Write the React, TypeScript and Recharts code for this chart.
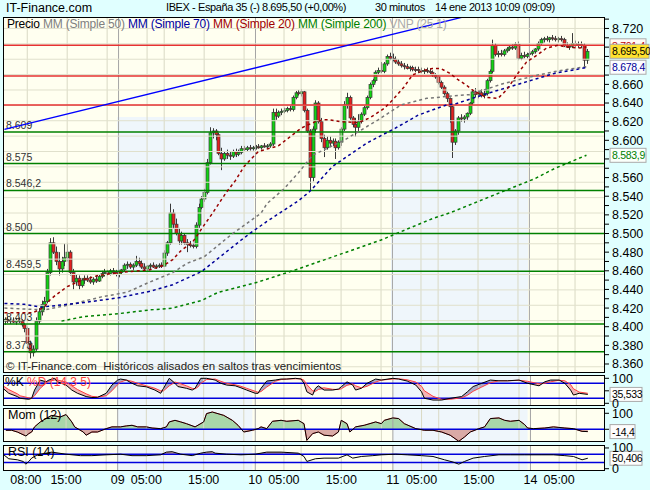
import React from 'react';
import {
  ComposedChart,
  Bar,
  Line,
  Area,
  XAxis,
  YAxis,
  CartesianGrid,
  ReferenceLine,
  ReferenceArea,
} from 'recharts';

const FONT = '"Liberation Sans", Arial, Helvetica, sans-serif';

// 30 minute bars, 08 ene 04:00 -> 14 ene 10:00 (205 bars)
const opens = [
  8406, 8408, 8406, 8407, 8405, 8407, 8406, 8402, 8398, 8382,
  8372, 8376, 8406, 8416, 8424, 8427, 8458, 8490, 8480, 8470,
  8462, 8470, 8474, 8480, 8458, 8448, 8452, 8444, 8450, 8452,
  8450, 8448, 8451, 8449, 8454, 8457, 8458, 8457, 8460, 8458,
  8456, 8458, 8461, 8466, 8467, 8464, 8466, 8470, 8468, 8464,
  8462, 8465, 8466, 8464, 8465, 8466, 8465, 8479, 8490, 8522,
  8510, 8500, 8492, 8498, 8490, 8488, 8487, 8486, 8509, 8528,
  8537, 8544, 8576, 8608, 8610, 8606, 8586, 8580, 8586, 8584,
  8583, 8588, 8585, 8587, 8591, 8590, 8592, 8591, 8592, 8593,
  8592, 8594, 8593, 8594, 8596, 8630, 8626, 8630, 8631, 8632,
  8634, 8633, 8646, 8651, 8650, 8652, 8632, 8610, 8560, 8612,
  8640, 8620, 8602, 8592, 8600, 8597, 8599, 8592, 8598, 8612,
  8638, 8646, 8624, 8617, 8614, 8620, 8628, 8635, 8646, 8660,
  8664, 8673, 8675, 8674, 8682, 8690, 8688, 8687, 8684, 8682,
  8680, 8679, 8677, 8678, 8676, 8676, 8675, 8674, 8675, 8674,
  8673, 8670, 8668, 8662, 8657, 8650, 8645, 8636, 8598, 8610,
  8624, 8623, 8625, 8629, 8640, 8652, 8649, 8651, 8648, 8650,
  8664, 8674, 8702, 8692, 8693, 8692, 8696, 8698, 8700, 8699,
  8703, 8688, 8691, 8690, 8692, 8693, 8695, 8698, 8704, 8708,
  8709, 8708, 8710, 8709, 8708, 8709, 8708, 8702, 8700, 8701,
  8704, 8702, 8703, 8702, 8686,
];
const highs = [
  8410, 8411, 8409, 8410, 8409, 8410, 8408, 8404, 8400, 8385,
  8380, 8410, 8420, 8428, 8432, 8462, 8495, 8496, 8486, 8480,
  8475, 8489, 8490, 8482, 8462, 8456, 8455, 8452, 8455, 8455,
  8454, 8453, 8455, 8456, 8460, 8462, 8461, 8462, 8463, 8461,
  8460, 8462, 8468, 8470, 8469, 8468, 8476, 8474, 8471, 8468,
  8466, 8468, 8469, 8467, 8468, 8469, 8482, 8492, 8532, 8526,
  8516, 8506, 8502, 8500, 8494, 8492, 8490, 8512, 8532, 8540,
  8548, 8580, 8614, 8613, 8612, 8608, 8592, 8588, 8590, 8588,
  8590, 8591, 8590, 8594, 8594, 8594, 8595, 8594, 8595, 8596,
  8595, 8597, 8596, 8598, 8634, 8634, 8632, 8634, 8635, 8636,
  8637, 8648, 8653, 8654, 8655, 8653, 8634, 8612, 8615, 8643,
  8642, 8624, 8606, 8604, 8604, 8602, 8602, 8600, 8614, 8642,
  8651, 8648, 8626, 8624, 8628, 8630, 8637, 8648, 8662, 8666,
  8675, 8678, 8684, 8684, 8692, 8694, 8693, 8690, 8687, 8685,
  8683, 8682, 8680, 8680, 8679, 8679, 8678, 8677, 8678, 8677,
  8675, 8672, 8670, 8664, 8659, 8652, 8646, 8638, 8612, 8626,
  8628, 8627, 8630, 8641, 8655, 8656, 8654, 8655, 8653, 8666,
  8676, 8708, 8704, 8696, 8697, 8698, 8700, 8702, 8703, 8705,
  8706, 8694, 8695, 8694, 8695, 8697, 8699, 8706, 8710, 8711,
  8712, 8711, 8713, 8712, 8711, 8712, 8710, 8705, 8703, 8715,
  8707, 8706, 8706, 8704, 8698,
];
const lows = [
  8402, 8404, 8403, 8404, 8402, 8404, 8400, 8394, 8378, 8366,
  8368, 8374, 8403, 8412, 8418, 8425, 8455, 8478, 8466, 8455,
  8458, 8465, 8470, 8455, 8440, 8444, 8440, 8442, 8446, 8448,
  8446, 8445, 8447, 8448, 8452, 8454, 8455, 8455, 8456, 8454,
  8453, 8456, 8459, 8462, 8462, 8461, 8464, 8465, 8462, 8460,
  8460, 8462, 8463, 8462, 8463, 8463, 8464, 8476, 8488, 8505,
  8498, 8488, 8488, 8488, 8480, 8485, 8484, 8484, 8506, 8526,
  8534, 8542, 8574, 8602, 8600, 8584, 8568, 8578, 8580, 8579,
  8581, 8582, 8583, 8585, 8588, 8588, 8589, 8589, 8590, 8591,
  8590, 8592, 8591, 8592, 8594, 8622, 8624, 8627, 8629, 8630,
  8631, 8631, 8644, 8648, 8647, 8630, 8608, 8546, 8556, 8608,
  8618, 8598, 8582, 8590, 8594, 8594, 8580, 8590, 8594, 8610,
  8634, 8622, 8614, 8604, 8610, 8618, 8626, 8633, 8644, 8657,
  8662, 8670, 8672, 8672, 8680, 8686, 8685, 8682, 8680, 8678,
  8676, 8676, 8674, 8674, 8673, 8672, 8672, 8671, 8672, 8671,
  8668, 8666, 8660, 8655, 8648, 8641, 8619, 8581, 8595, 8606,
  8620, 8619, 8622, 8627, 8638, 8646, 8645, 8646, 8645, 8648,
  8662, 8672, 8690, 8689, 8690, 8690, 8694, 8696, 8697, 8697,
  8686, 8686, 8688, 8688, 8689, 8691, 8693, 8696, 8702, 8705,
  8706, 8705, 8707, 8706, 8705, 8706, 8700, 8699, 8697, 8699,
  8700, 8699, 8699, 8678, 8682,
];
const closes = [
  8408, 8406, 8407, 8405, 8407, 8406, 8402, 8398, 8382, 8372,
  8376, 8406, 8416, 8424, 8427, 8458, 8490, 8480, 8470, 8462,
  8470, 8474, 8480, 8458, 8448, 8452, 8444, 8450, 8452, 8450,
  8448, 8451, 8449, 8454, 8457, 8458, 8457, 8460, 8458, 8456,
  8458, 8461, 8466, 8467, 8464, 8466, 8470, 8468, 8464, 8462,
  8465, 8466, 8464, 8465, 8466, 8465, 8479, 8490, 8522, 8510,
  8500, 8492, 8498, 8490, 8488, 8487, 8486, 8509, 8528, 8537,
  8544, 8576, 8608, 8610, 8606, 8586, 8580, 8586, 8584, 8583,
  8588, 8585, 8587, 8591, 8590, 8592, 8591, 8592, 8593, 8592,
  8594, 8593, 8594, 8596, 8630, 8626, 8630, 8631, 8632, 8634,
  8633, 8646, 8651, 8650, 8652, 8632, 8610, 8560, 8612, 8640,
  8620, 8602, 8592, 8600, 8597, 8599, 8592, 8598, 8612, 8638,
  8646, 8624, 8617, 8614, 8620, 8628, 8635, 8646, 8660, 8664,
  8673, 8675, 8674, 8682, 8690, 8688, 8687, 8684, 8682, 8680,
  8679, 8677, 8678, 8676, 8675, 8675, 8674, 8675, 8674, 8673,
  8670, 8668, 8662, 8657, 8650, 8645, 8636, 8598, 8610, 8624,
  8623, 8625, 8629, 8640, 8652, 8649, 8651, 8648, 8650, 8664,
  8674, 8702, 8692, 8693, 8692, 8696, 8698, 8700, 8699, 8703,
  8688, 8691, 8690, 8692, 8693, 8695, 8698, 8704, 8708, 8709,
  8708, 8710, 8709, 8708, 8709, 8708, 8702, 8700, 8701, 8704,
  8702, 8703, 8702, 8686, 8695.5,
];
const SLOTS = 211; // bars plus empty room on the right edge

// moving averages: [bar, value]
const ma20Pts = [
  [0, 8415], [10, 8415], [14, 8421], [16, 8429], [18, 8434], [22, 8443], [27, 8450],
  [33, 8455], [40, 8458], [51, 8461], [56, 8466], [59, 8472], [62, 8482], [66, 8491],
  [70, 8509], [73, 8522], [76, 8536], [78, 8545], [81, 8557], [84, 8572], [89, 8588],
  [96, 8594], [104, 8613], [106, 8616], [109, 8620], [112, 8622], [114, 8622], [118, 8620],
  [124, 8619], [128, 8624], [133, 8634], [136, 8643], [140, 8657], [143, 8670], [147, 8675],
  [150, 8677], [153, 8677], [156, 8672], [159, 8665], [162, 8659], [164, 8654], [167, 8649],
  [169, 8646], [173, 8645], [176, 8654], [180, 8672], [183, 8684], [187, 8692], [190, 8699],
  [194, 8702], [197, 8700], [201, 8699], [204, 8700],
];
const ma50Pts = [
  [0, 8420], [14, 8418], [22, 8423], [34, 8432], [43, 8437], [51, 8448], [59, 8458],
  [64, 8468], [70, 8475], [78, 8495], [80, 8500], [90, 8522], [92, 8532], [98, 8548],
  [103, 8565], [108, 8584], [119, 8600], [131, 8622], [139, 8638], [148, 8645], [155, 8647],
  [163, 8649], [175, 8661], [187, 8670], [195, 8675], [204, 8679],
];
const ma70Pts = [
  [0, 8425], [7, 8424], [13, 8421], [28, 8426], [40, 8431], [51, 8438], [59, 8445],
  [69, 8459], [83, 8493], [86, 8500], [92, 8513], [103, 8535], [107, 8545], [115, 8572],
  [127, 8597], [137, 8613], [145, 8627], [155, 8638], [158, 8639], [169, 8650], [181, 8661],
  [193, 8672], [204, 8678],
];
const ma200Pts = [
  [20, 8406], [28, 8411], [40, 8414], [51, 8418], [59, 8420], [69, 8428], [75, 8437],
  [89, 8448], [103, 8462], [132, 8493], [139, 8502], [150, 8516], [156, 8522], [186, 8559],
  [193, 8570], [204, 8584],
];

// stochastic %K / %D: [bar, K, D]
const stochPts = [
  [0, 60, 70], [2, 40, 55], [5, 27, 38], [6, 20, 30], [9, 16, 22], [10, 20, 20], [11, 53, 30],
  [13, 93, 60], [15, 86, 80], [16, 93, 88], [18, 100, 93], [19, 86, 93], [22, 73, 85],
  [24, 53, 70], [26, 40, 55], [29, 27, 38], [31, 23, 28], [33, 24, 25], [36, 40, 30],
  [38, 73, 50], [40, 93, 75], [41, 97, 85], [43, 93, 93], [45, 80, 88], [47, 70, 80],
  [50, 66, 70], [53, 53, 60], [55, 40, 50], [56, 60, 50], [58, 100, 70], [60, 80, 85],
  [61, 67, 82], [64, 60, 70], [66, 53, 60], [67, 60, 58], [68, 80, 65], [69, 100, 80],
  [71, 100, 95], [74, 93, 97], [76, 80, 88], [78, 73, 80], [81, 70, 74], [83, 62, 68],
  [85, 53, 60], [88, 40, 48], [89, 40, 44], [90, 60, 47], [92, 89, 65], [95, 93, 88],
  [97, 97, 95], [99, 97, 97], [102, 100, 98], [104, 97, 98], [105, 80, 92], [106, 46, 75],
  [108, 33, 50], [109, 60, 48], [110, 70, 55], [112, 53, 62], [115, 53, 56], [117, 57, 55],
  [118, 66, 58], [120, 86, 72], [122, 73, 78], [123, 53, 70], [125, 60, 62], [127, 80, 68],
  [130, 97, 85], [132, 93, 93], [136, 100, 97], [138, 97, 98], [141, 89, 94], [144, 73, 85],
  [146, 46, 68], [147, 20, 50], [150, 13, 28], [153, 13, 16], [156, 20, 16], [160, 27, 22],
  [162, 46, 32], [164, 67, 48], [167, 80, 65], [170, 93, 82], [173, 90, 90], [176, 90, 90],
  [180, 93, 92], [183, 80, 88], [187, 70, 78], [189, 86, 80], [191, 93, 86], [194, 93, 92],
  [196, 80, 90], [198, 53, 75], [199, 33, 58], [201, 40, 45], [204, 35.5, 40],
];
// momentum (12): [bar, value]
const momPts = [
  [1, -6], [3, -6], [5, -17], [8, -42], [9, -27], [10, -17], [11, 15], [13, 46], [15, 67],
  [17, 87], [20, 77], [22, 92], [24, 46], [25, 15], [28, -17], [29, -37], [31, -17], [33, -17],
  [36, 4], [38, 15], [41, 15], [43, 21], [45, 25], [47, 15], [50, 15], [52, 8], [55, 4],
  [57, 15], [58, 46], [60, 56], [62, 46], [64, 35], [67, 15], [70, 46], [71, 98], [73, 108],
  [77, 87], [80, 56], [82, 25], [84, -17], [87, -6], [89, 4], [90, 15], [92, 4], [94, 50],
  [97, 56], [99, 50], [103, 56], [105, 35], [106, -69], [108, -27], [110, -17], [112, -37],
  [115, -42], [117, -17], [118, 56], [120, 35], [121, -17], [123, 15], [126, 25], [130, 46],
  [132, 35], [133, 56], [136, 71], [138, 67], [140, 35], [144, 4], [147, -6], [150, -6],
  [153, -17], [156, -37], [159, -75], [161, -48], [163, -17], [166, 4], [168, 15], [170, 67],
  [173, 71], [175, 56], [177, 50], [180, 56], [182, 29], [183, 8], [185, 4], [189, 8],
  [192, 15], [196, 8], [199, 4], [202, -13], [204, -14.4],
];
// RSI (14): [bar, value]
const rsiPts = [
  [0, 70], [2, 48], [5, 43], [7, 35], [8, 22], [9, 35], [10, 51], [12, 67], [15, 75], [17, 80],
  [22, 70], [27, 63], [31, 63], [36, 67], [41, 70], [45, 63], [50, 63], [55, 67], [57, 80],
  [59, 82], [62, 70], [66, 63], [69, 75], [71, 80], [73, 82], [74, 75], [78, 70], [83, 67],
  [88, 70], [92, 80], [97, 80], [103, 75], [105, 59], [106, 35], [109, 48], [112, 51],
  [117, 51], [120, 67], [122, 51], [125, 59], [129, 63], [132, 67], [137, 70], [141, 67],
  [146, 63], [150, 59], [154, 43], [157, 32], [159, 22], [161, 35], [164, 51], [168, 59],
  [173, 67], [177, 67], [182, 67], [188, 67], [192, 67], [196, 63], [199, 59], [202, 43],
  [204, 50.4],
];

const redLevels = [8702, 8669, 8638];
const greenLevels = [8609, 8575, 8546.2, 8500, 8459.5, 8403, 8373];
const greenLabels = ['8.609', '8.575', '8.546,2', '8.500', '8.459,5', '8.403', '8.373'];
const trendFrom = { x: 0, y: 8611.7 };
const trendTo = { x: 204, y: 8764.7 };

const priceTicks = [
  8360, 8370, 8380, 8390, 8400, 8410, 8420, 8430, 8440, 8450, 8460, 8470, 8480, 8490,
  8500, 8510, 8520, 8530, 8540, 8550, 8560, 8570, 8580, 8590, 8600, 8610, 8620, 8630,
  8640, 8650, 8660, 8670, 8680, 8690, 8700, 8710, 8720, 8730,
];
// labels hidden in the reference behind the value tags
const coveredTicks = [8580, 8680, 8700];
const priceGrid = [
  8720, 8703.5, 8687, 8670.5, 8654, 8637.5, 8621, 8604.5, 8588, 8571.5, 8555, 8538.5,
  8522, 8505.5, 8489, 8472.5, 8456, 8439.5, 8423, 8406.5, 8390, 8373.5, 8357,
];
const labelTicks = [8, 22, 40, 50, 70, 88, 98, 118, 136, 146, 166, 184, 194];
const labelTexts = ['08:00', '15:00', '09', '05:00', '15:00', '10', '05:00', '15:00', '11', '05:00', '15:00', '14', '05:00'];
const gridTicks = [8, 22, 36, 50, 56, 70, 84, 98, 104, 118, 132, 146, 152, 166, 180, 194, 200];
const daySplits = [40, 88, 136, 184];
const shadedDays = [[40, 87], [136, 183]];

const priceTags = [
  { v: 8701.4, text: '8.701,4', color: '#c00000', bg: '#fffaf5', w: 36 },
  { v: 8695.5, text: '8.695,50', color: '#000', bg: '#ffe22e', w: 39 },
  { v: 8678.4, text: '8.678,4', color: '#000099', bg: '#fbfdff', w: 36 },
  { v: 8583.9, text: '8.583,9', color: '#008000', bg: '#fbfffb', w: 36 },
];

const PRICE_MIN = 8351.4;
const PRICE_MAX = 8732.3;

// build the row table
const rows: any[] = Array.from({ length: SLOTS }, (_, i) => ({
  i,
  o: opens[i] ?? null,
  h: highs[i] ?? null,
  l: lows[i] ?? null,
  c: closes[i] ?? null,
}));
const put = (pts: number[][], key: string) => pts.forEach(([i, v]) => { rows[i][key] = v; });
put(ma20Pts, 'ma20');
put(ma50Pts, 'ma50');
put(ma70Pts, 'ma70');
put(ma200Pts, 'ma200');
stochPts.forEach(([i, k, d]) => { rows[i].k = k; rows[i].d = d; });
put(momPts, 'mom');
put(rsiPts, 'rsi');

const momMax = Math.max(...momPts.map((p) => p[1]));
const momMin = Math.min(...momPts.map((p) => p[1]));
const momSplit = momMax / (momMax - momMin);

const fmtPrice = (v: number) => {
  const s = String(v);
  return s.slice(0, -3) + '.' + s.slice(-3);
};

const Candle = (props: any) => {
  const { x, y, width, height, payload } = props;
  if (!payload || payload.o == null) return null;
  const { o, h, l, c } = payload;
  const top = Math.min(y, y + height);
  const bot = Math.max(y, y + height);
  const k = h === l ? 0 : (bot - top) / (h - l);
  const cx = Math.round(x + width / 2) + 0.5;
  const yo = top + (h - o) * k;
  const yc = top + (h - c) * k;
  const bTop = Math.min(yo, yc);
  const bH = Math.max(1, Math.abs(yo - yc));
  return (
    <g>
      <line x1={cx} x2={cx} y1={top} y2={bot} stroke="#3a3a3a" strokeWidth={1} />
      <rect x={cx - 1.5} y={bTop} width={3} height={bH} fill={c >= o ? '#12d412' : '#e42020'} stroke="#3a3a3a" strokeWidth={0.7} />
    </g>
  );
};

const levelLabel = (text: string) => (props: any) => {
  const vb = props.viewBox;
  if (!vb) return null;
  return (
    <text x={vb.x + 3} y={vb.y - 3} fontSize={10.5} fill="#333" fontFamily={FONT}>
      {text}
    </text>
  );
};

const tagLabel = (text: string, color: string, bg: string, w: number) => (props: any) => {
  const vb = props.viewBox;
  if (!vb) return null;
  const x = vb.x + vb.width + 5;
  return (
    <g>
      <rect x={x} y={vb.y - 7} width={w} height={14} fill={bg} stroke="#aaa" />
      <text x={x + 2} y={vb.y + 4} fontSize={10.5} letterSpacing={-0.3} fill={color} fontFamily={FONT}>
        {text}
      </text>
    </g>
  );
};

// shared background pieces for every panel
const panelBackdrop = (yMin: number, yMax: number, shadeTop: number) => [
  <CartesianGrid key="bg" fill="#fffff0" horizontal={false} vertical={false} stroke="none" />,
  ...shadedDays.map(([a, b]) => (
    <ReferenceArea key={'sh' + a} x1={a} x2={b} y1={yMin} y2={shadeTop} fill="#eff6fb" fillOpacity={1} stroke="none" ifOverflow="hidden" />
  )),
  ...gridTicks.map((t) => <ReferenceLine key={'gx' + t} x={t} stroke="#d9d9c4" strokeWidth={1} />),
  ...daySplits.map((t) => <ReferenceLine key={'dx' + t} x={t} stroke="#a4a4a4" strokeWidth={1} />),
];

const axisTick = { fill: '#000', fontSize: 12.5, fontFamily: FONT };

const Border = ({ top, height }: { top: number; height: number }) => (
  <div style={{ position: 'absolute', left: 3, top, width: 602, height, border: '1px solid #000', boxSizing: 'border-box', pointerEvents: 'none' }} />
);

const boxTag = (value: number, text: string, w: number) => (
  <ReferenceLine y={value} stroke="none" ifOverflow="visible" label={tagLabel(text, '#000', '#fdfdfd', w)} />
);

const headStyle = { position: 'absolute' as const, top: 1, fontSize: 11, letterSpacing: -0.4, whiteSpace: 'nowrap' as const };
const PAD = 7; // room above/below indicator panels so their tick labels are not clipped

export default function App() {
  return (
    <div style={{ position: 'relative', width: 650, height: 490, background: '#e0ffff', overflow: 'hidden', fontFamily: FONT }}>
      <style>{'body{margin:0}'}</style>

      {/* header */}
      <div style={{ position: 'absolute', left: 6, top: 1, fontSize: 12.5 }}>IT-Finance.com</div>
      <div style={{ ...headStyle, left: 166 }}>IBEX - España 35 (-)</div>
      <div style={{ ...headStyle, left: 262 }}>8.695,50 (+0,00%)</div>
      <div style={{ ...headStyle, left: 375 }}>30 minutos</div>
      <div style={{ ...headStyle, left: 435 }}>14 ene 2013 10:09 (09:09)</div>

      {/* price panel */}
      <div style={{ position: 'absolute', left: 0, top: 0 }}>
        <ComposedChart width={650} height={374} data={rows} margin={{ top: 17, right: 0, bottom: 2, left: 3 }} barCategoryGap={0} barGap={0}>
          {panelBackdrop(PRICE_MIN, PRICE_MAX, 8625)}
          {priceGrid.map((p) => (
            <ReferenceLine key={'gy' + p} y={p} stroke="#e0e0cc" strokeWidth={1} />
          ))}
          {redLevels.map((p) => (
            <ReferenceLine key={'r' + p} y={p} stroke="#e63232" strokeWidth={1.5} />
          ))}
          {greenLevels.map((p, n) => (
            <ReferenceLine key={'g' + p} y={p} stroke="#008000" strokeWidth={1.5} label={levelLabel(greenLabels[n])} />
          ))}
          <ReferenceLine segment={[trendFrom, trendTo]} stroke="#0000ff" strokeWidth={1.3} ifOverflow="hidden" />
          <Line dataKey="ma200" stroke="#008000" strokeWidth={1.5} strokeDasharray="3 3" dot={false} connectNulls isAnimationActive={false} />
          <Line dataKey="ma50" stroke="#777777" strokeWidth={1.5} strokeDasharray="3 3" dot={false} connectNulls isAnimationActive={false} />
          <Line dataKey="ma70" stroke="#000099" strokeWidth={1.5} strokeDasharray="3 3" dot={false} connectNulls isAnimationActive={false} />
          <Line dataKey="ma20" stroke="#990000" strokeWidth={1.5} strokeDasharray="3 3" dot={false} connectNulls isAnimationActive={false} />
          <Bar dataKey={(r: any) => (r.h == null ? null : [r.l, r.h])} shape={Candle} isAnimationActive={false} />
          {priceTags.map((t) => (
            <ReferenceLine key={'t' + t.v} y={t.v} stroke="none" ifOverflow="visible" label={tagLabel(t.text, t.color, t.bg, t.w)} />
          ))}
          <XAxis dataKey="i" type="category" hide />
          <YAxis
            orientation="right"
            width={45}
            domain={[PRICE_MIN, PRICE_MAX]}
            allowDataOverflow
            ticks={priceTicks}
            interval={0}
            tickFormatter={(v: number) => (v % 20 === 0 && !coveredTicks.includes(v) ? fmtPrice(v) : '')}
            tick={axisTick}
            tickSize={4}
            tickMargin={3}
            tickLine={{ stroke: '#000' }}
            axisLine={false}
          />
        </ComposedChart>
      </div>
      <Border top={17} height={356} />
      <div style={{ position: 'absolute', left: 7, top: 17, fontSize: 12, letterSpacing: -0.2, whiteSpace: 'nowrap' }}>
        <span style={{ color: '#000' }}>Precio </span>
        <span style={{ color: '#808080' }}>MM (Simple 50) </span>
        <span style={{ color: '#0000a0' }}>MM (Simple 70) </span>
        <span style={{ color: '#a00000' }}>MM (Simple 20) </span>
        <span style={{ color: '#008000' }}>MM (Simple 200) </span>
        <span style={{ color: '#aaaaaa' }}>VNP (25 1)</span>
      </div>
      <div style={{ position: 'absolute', left: 6, top: 360, fontSize: 11.5, color: '#222', whiteSpace: 'nowrap' }}>
        © IT-Finance.com&nbsp;&nbsp;Históricos alisados en saltos tras vencimientos
      </div>

      {/* stochastic */}
      <div style={{ position: 'absolute', left: 0, top: 375 - PAD }}>
        <ComposedChart width={650} height={30 + 2 * PAD} data={rows} margin={{ top: PAD, right: 0, bottom: PAD, left: 3 }}>
          {panelBackdrop(-6.8, 113.2, 113.2)}
          <Area dataKey={(r: any) => (r.k == null ? null : [r.k, Math.max(r.k, r.d)])} fill="#f3b4b4" fillOpacity={1} stroke="none" connectNulls isAnimationActive={false} />
          <Area dataKey={(r: any) => (r.k == null ? null : [Math.min(r.k, r.d), r.k])} fill="#a9a9c6" fillOpacity={1} stroke="none" connectNulls isAnimationActive={false} />
          <ReferenceLine y={80} stroke="#0000dd" strokeWidth={1.5} />
          <ReferenceLine y={20} stroke="#0000dd" strokeWidth={1.5} />
          <Line dataKey="d" stroke="#ff4040" strokeWidth={1} dot={false} connectNulls isAnimationActive={false} />
          <Line dataKey="k" stroke="#000" strokeWidth={1} dot={false} connectNulls isAnimationActive={false} />
          {boxTag(35.533, '35,533', 32)}
          <XAxis dataKey="i" type="category" hide />
          <YAxis orientation="right" width={45} domain={[-6.8, 113.2]} allowDataOverflow ticks={[0, 50, 100]} interval={0}
            tickFormatter={(v: number) => (v === 50 ? '' : String(v))} tick={axisTick} tickSize={4} tickMargin={3} tickLine={{ stroke: '#000' }} axisLine={false} />
        </ComposedChart>
      </div>
      <Border top={375} height={31} />
      <div style={{ position: 'absolute', left: 5, top: 375, fontSize: 12, whiteSpace: 'nowrap' }}>
        <span style={{ color: '#000' }}>%K </span>
        <span style={{ color: '#ff4040' }}>%D (14 3 5)</span>
      </div>

      {/* momentum */}
      <div style={{ position: 'absolute', left: 0, top: 408 - PAD }}>
        <ComposedChart width={650} height={34 + 2 * PAD} data={rows} margin={{ top: PAD, right: 0, bottom: PAD, left: 3 }}>
          <defs>
            <linearGradient id="momFill" x1="0" y1="0" x2="0" y2="1">
              <stop offset={momSplit} stopColor="#a9d6a9" />
              <stop offset={momSplit} stopColor="#d9aaa6" />
            </linearGradient>
          </defs>
          {panelBackdrop(-79.4, 133, 133)}
          <Area dataKey="mom" baseValue={0} fill="url(#momFill)" fillOpacity={1} stroke="#ff5050" strokeWidth={1} connectNulls isAnimationActive={false} />
          <ReferenceLine y={0} stroke="#0000dd" strokeWidth={1.5} />
          <Line dataKey="mom" stroke="#000" strokeWidth={1} dot={false} connectNulls isAnimationActive={false} />
          {boxTag(-14.4, '-14,4', 25)}
          <XAxis dataKey="i" type="category" hide />
          <YAxis orientation="right" width={45} domain={[-79.4, 133]} allowDataOverflow ticks={[0, 100]} interval={0}
            tickFormatter={(v: number) => (v === 0 ? '' : String(v))}
            tick={axisTick} tickSize={4} tickMargin={3} tickLine={{ stroke: '#000' }} axisLine={false} />
        </ComposedChart>
      </div>
      <Border top={408} height={34} />
      <div style={{ position: 'absolute', left: 8, top: 408, fontSize: 12.5, whiteSpace: 'nowrap' }}>Mom (12)</div>

      {/* RSI + time axis */}
      <div style={{ position: 'absolute', left: 0, top: 445 - PAD }}>
        <ComposedChart width={650} height={45 + PAD} data={rows} margin={{ top: PAD, right: 0, bottom: 0, left: 3 }}>
          {panelBackdrop(-6.2, 114.3, 114.3)}
          <Area dataKey={(r: any) => (r.rsi == null ? null : [70, Math.max(70, r.rsi)])} fill="#c9a29c" fillOpacity={1} stroke="none" connectNulls isAnimationActive={false} />
          <ReferenceLine y={70} stroke="#0000dd" strokeWidth={1.5} />
          <ReferenceLine y={30} stroke="#0000dd" strokeWidth={1.5} />
          <Line dataKey="rsi" stroke="#000" strokeWidth={1} dot={false} connectNulls isAnimationActive={false} />
          {boxTag(50.406, '50,406', 32)}
          <XAxis
            dataKey="i"
            type="category"
            height={20}
            ticks={labelTicks}
            interval={0}
            tickFormatter={(v: number) => labelTexts[labelTicks.indexOf(v)] ?? ''}
            tick={axisTick}
            tickLine={false}
            axisLine={false}
            tickSize={3}
          />
          <YAxis orientation="right" width={45} domain={[-6.2, 114.3]} allowDataOverflow ticks={[0, 100]} interval={0}
            tick={axisTick} tickSize={4} tickMargin={3} tickLine={{ stroke: '#000' }} axisLine={false} />
        </ComposedChart>
      </div>
      <Border top={445} height={26} />
      <div style={{ position: 'absolute', left: 8, top: 445, fontSize: 12.5, whiteSpace: 'nowrap' }}>RSI (14)</div>
    </div>
  );
}
